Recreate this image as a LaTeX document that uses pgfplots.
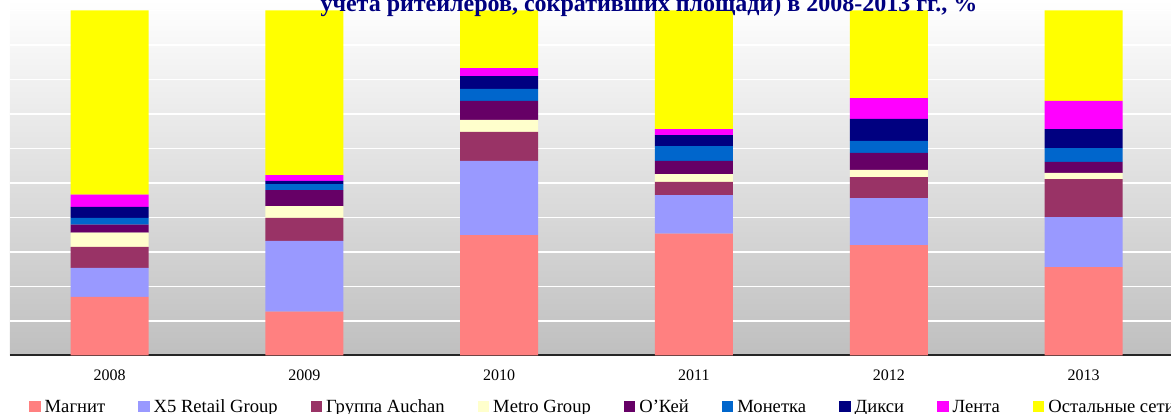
\documentclass[border=0pt]{standalone}
\usepackage{fontspec}
\setmainfont{Liberation Serif}
\usepackage{pgfplots}
\pgfplotsset{compat=1.18}
\usepackage{pgfplotstable}

\definecolor{cMag}{HTML}{FF8080}
\definecolor{cXf}{HTML}{9999FF}
\definecolor{cAuc}{HTML}{993366}
\definecolor{cMet}{HTML}{FFFFCC}
\definecolor{cOke}{HTML}{660066}
\definecolor{cMon}{HTML}{0066CC}
\definecolor{cDik}{HTML}{000080}
\definecolor{cLen}{HTML}{FF00FF}
\definecolor{cOst}{HTML}{FFFF00}
\definecolor{cTitle}{HTML}{000080}

\pgfplotstableread{
x mag xf auc met oke mon dik len ost
0 17.0 8.4 6.1 4.1 2.3 2.0 3.2 3.5 53.4
1 12.7 20.5 6.7 3.4 4.6 1.8 0.9 1.7 47.7
2 34.9 21.5 8.4 3.5 5.5 3.5 3.7 2.3 16.7
3 35.3 11.2 3.8 2.3 3.8 4.3 3.2 1.7 34.4
4 32.0 13.6 6.1 2.1 4.9 3.5 6.4 6.0 25.4
5 25.6 14.5 11.0 1.8 3.2 4.0 5.5 8.2 26.2
}\datatable

\pgfplotsset{myleg/.style={legend image code/.code={\fill[##1,draw=none] (0pt,-5.5pt) rectangle (11.5pt,5.5pt);}}}

\begin{document}
\begin{tikzpicture}[x=1pt,y=1pt]
\begin{axis}[
  at={(10pt,58.5pt)}, anchor=south west,
  scale only axis, width=1161pt, height=355.5pt,
  xmin=-0.5108, xmax=5.449, ymin=0, ymax=103.04,
  ybar stacked, bar width=78pt,
  axis background/.style={shade, top color=white, bottom color=black!25},
  axis x line*=bottom, axis y line*=left,
  y axis line style={draw=none},
  x axis line style={line width=2pt, black!85},
  ytick={10,20,...,100}, yticklabels={}, y tick style={draw=none},
  ymajorgrids, major grid style={white, line width=1.5pt},
  xtick={0,...,5}, xticklabels={2008,2009,2010,2011,2012,2013},
  x tick style={draw=none},
  xticklabel style={font=\fontsize{16}{18}\selectfont, anchor=base, yshift=-25pt},
  extra x ticks={-0.5,0.5,1.5,2.5,3.5,4.5},
  extra x tick labels={},
  extra x tick style={tick align=outside, major tick length=5pt, tick style={draw=black, line width=1.5pt}, grid=none},
  legend columns=9,
  legend style={at={(rel axis cs:0.01637,-0.14487)}, anchor=west, draw=none, fill=none, inner sep=0pt,
    font=\fontsize{18.6}{20}\selectfont,
    nodes={inner sep=0pt},
    /tikz/every odd column/.append style={column sep=4pt},
    /tikz/every even column/.append style={column sep=33pt}},
]
\addplot[fill=cMag, draw=none, myleg] table[x=x,y=mag]{\datatable};
\addplot[fill=cXf, draw=none, myleg] table[x=x,y=xf]{\datatable};
\addplot[fill=cAuc, draw=none, myleg] table[x=x,y=auc]{\datatable};
\addplot[fill=cMet, draw=none, myleg] table[x=x,y=met]{\datatable};
\addplot[fill=cOke, draw=none, myleg] table[x=x,y=oke]{\datatable};
\addplot[fill=cMon, draw=none, myleg] table[x=x,y=mon]{\datatable};
\addplot[fill=cDik, draw=none, myleg] table[x=x,y=dik]{\datatable};
\addplot[fill=cLen, draw=none, myleg] table[x=x,y=len]{\datatable};
\addplot[fill=cOst, draw=none, myleg] table[x=x,y=ost]{\datatable};
\legend{Магнит, X5 Retail Group, Группа Auchan, Metro Group, O'Кей, Монетка, Дикси, Лента, Остальные сети}
\end{axis}
\node[anchor=base, text=cTitle, font=\fontsize{24}{26}\selectfont\bfseries, inner sep=0pt] at (649,402) {учета ритейлеров, сокративших площади) в 2008-2013 гг., \%};
\pgfresetboundingbox
\useasboundingbox (0,0) rectangle (1171,414);
\end{tikzpicture}
\end{document}
